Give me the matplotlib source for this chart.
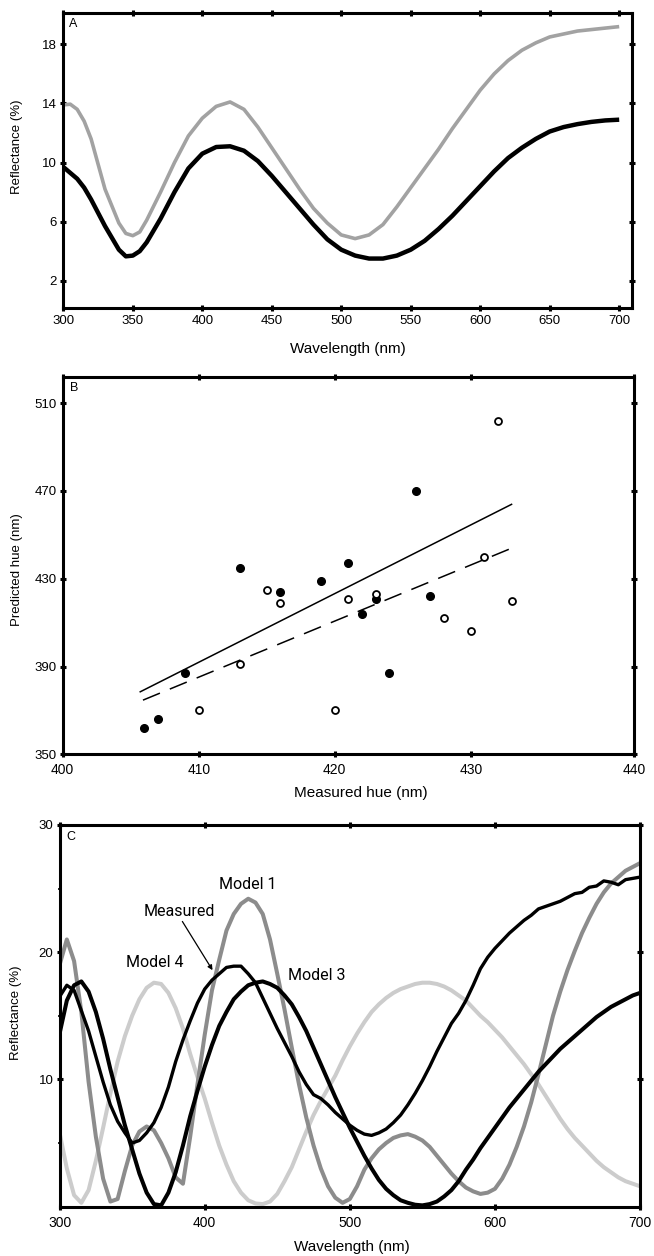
import matplotlib
matplotlib.use("Agg")
import matplotlib.pyplot as plt
from matplotlib.ticker import FixedLocator

plt.rcParams['font.family'] = ['Liberation Sans', 'DejaVu Sans']

# ---- Panel A: reflectance spectra ----
wl_a = [300, 305, 310, 315, 320, 330, 340, 345, 350, 355, 360, 370, 380, 390,
        400, 410, 420, 430, 440, 450, 460, 470, 480, 490, 500, 510, 520, 530,
        540, 550, 560, 570, 580, 590, 600, 610, 620, 630, 640, 650, 660, 670,
        680, 690, 700]
black_a = [9.7, 9.3, 8.9, 8.3, 7.5, 5.7, 4.1, 3.65, 3.7, 4.0, 4.6, 6.2, 8.0, 9.6,
           10.6, 11.05, 11.1, 10.8, 10.1, 9.1, 8.0, 6.9, 5.8, 4.8, 4.1, 3.7, 3.5, 3.5,
           3.7, 4.1, 4.7, 5.5, 6.4, 7.4, 8.4, 9.4, 10.3, 11.0, 11.6, 12.1, 12.4, 12.6,
           12.75, 12.85, 12.9]
gray_a = [13.9, 13.95, 13.6, 12.8, 11.6, 8.2, 5.9, 5.2, 5.05, 5.3, 6.1, 8.0, 10.0, 11.8,
          13.0, 13.8, 14.1, 13.6, 12.4, 11.0, 9.6, 8.2, 6.9, 5.9, 5.1, 4.85, 5.1, 5.8,
          7.0, 8.3, 9.6, 10.9, 12.3, 13.6, 14.9, 16.0, 16.9, 17.6, 18.1, 18.5, 18.7, 18.9,
          19.0, 19.1, 19.2]

# ---- Panel B: predicted vs measured hue ----
filled_x = [406, 407, 409, 413, 416, 419, 421, 422, 423, 424, 426, 427]
filled_y = [362, 366, 387, 435, 424, 429, 437, 414, 421, 387, 470, 422]
open_x = [410, 413, 415, 416, 420, 421, 423, 428, 430, 431, 432, 433]
open_y = [370, 391, 425, 419, 370, 421, 423, 412, 406, 440, 502, 420]
solid_x = [405.7, 433.0]
solid_y = [378.5, 463.9]
dash_x = [405.9, 433.5]
dash_y = [374.7, 445.2]

# ---- Panel C: measured spectrum and models ----
wl_c = [300, 305, 310, 315, 320, 325, 330, 335, 340, 345, 350, 355, 360, 365, 370,
        375, 380, 385, 390, 395, 400, 405, 410, 415, 420, 425, 430, 435, 440, 445,
        450, 455, 460, 465, 470, 475, 480, 485, 490, 495, 500, 505, 510, 515, 520,
        525, 530, 535, 540, 545, 550, 555, 560, 565, 570, 575, 580, 585, 590, 595,
        600, 605, 610, 615, 620, 625, 630, 635, 640, 645, 650, 655, 660, 665, 670,
        675, 680, 685, 690, 695, 700]
measured = [16.5, 17.4, 17.0, 15.4, 13.8, 11.8, 9.8, 8.0, 6.7, 5.8, 5.0, 5.2, 5.8, 6.6, 7.8,
            9.4, 11.4, 13.1, 14.6, 16.0, 17.1, 17.8, 18.3, 18.8, 18.9, 18.9, 18.3, 17.6, 16.4, 15.2,
            14.0, 12.9, 11.8, 10.6, 9.6, 8.8, 8.5, 8.0, 7.4, 6.9, 6.4, 6.0, 5.7, 5.6, 5.8,
            6.1, 6.6, 7.2, 8.0, 8.9, 9.9, 11.0, 12.2, 13.3, 14.4, 15.2, 16.2, 17.4, 18.7, 19.6,
            20.3, 20.9, 21.5, 22.0, 22.5, 22.9, 23.4, 23.6, 23.8, 24.0, 24.3, 24.6, 24.7, 25.1, 25.2,
            25.6, 25.5, 25.3, 25.7, 25.8, 25.9]
model1 = [19.0, 21.0, 19.3, 15.3, 9.8, 5.5, 2.2, 0.4, 0.6, 2.8, 4.8, 5.9, 6.3, 6.0, 5.0,
          3.8, 2.3, 1.8, 5.5, 9.6, 13.5, 17.0, 19.4, 21.7, 23.0, 23.8, 24.2, 23.9, 23.0, 21.0,
          18.3, 15.5, 12.5, 9.6, 7.0, 4.8, 3.0, 1.6, 0.7, 0.3, 0.6, 1.6, 2.9, 3.8, 4.5,
          5.0, 5.4, 5.6, 5.7, 5.5, 5.2, 4.7, 4.0, 3.3, 2.6, 2.0, 1.5, 1.2, 1.0, 1.1,
          1.4, 2.2, 3.3, 4.7, 6.3, 8.2, 10.4, 12.7, 15.0, 16.9, 18.6, 20.1, 21.5, 22.7, 23.8,
          24.7, 25.4, 25.9, 26.4, 26.7, 27.0]
model3 = [13.6, 16.2, 17.4, 17.7, 16.9, 15.3, 13.2, 10.8, 8.6, 6.4, 4.5, 2.6, 1.1, 0.2, 0.1,
          1.1, 2.7, 4.8, 7.1, 9.1, 11.0, 12.7, 14.2, 15.3, 16.3, 16.9, 17.4, 17.6, 17.7, 17.5,
          17.2, 16.6, 15.9, 14.9, 13.8, 12.5, 11.2, 9.9, 8.6, 7.4, 6.2, 5.1, 4.0, 3.0, 2.1,
          1.4, 0.9, 0.5, 0.3, 0.15, 0.1, 0.2, 0.4, 0.8, 1.3, 2.0, 2.9, 3.7, 4.6, 5.4,
          6.2, 7.0, 7.8, 8.5, 9.2, 9.9, 10.6, 11.2, 11.8, 12.4, 12.9, 13.4, 13.9, 14.4, 14.9,
          15.3, 15.7, 16.0, 16.3, 16.6, 16.8]
model4 = [5.8, 3.0, 0.9, 0.3, 1.3, 3.6, 6.2, 8.9, 11.4, 13.4, 15.0, 16.3, 17.2, 17.6, 17.5,
          16.8, 15.6, 14.0, 12.0, 10.2, 8.5, 6.6, 4.8, 3.3, 2.0, 1.1, 0.5, 0.25, 0.2, 0.4,
          1.0, 2.0, 3.1, 4.5, 5.9, 7.2, 8.3, 9.3, 10.3, 11.5, 12.6, 13.6, 14.5, 15.3, 15.9,
          16.4, 16.8, 17.1, 17.3, 17.5, 17.6, 17.6, 17.5, 17.3, 17.0, 16.6, 16.2, 15.6, 15.0, 14.5,
          13.9, 13.3, 12.6, 11.9, 11.2, 10.4, 9.6, 8.7, 7.8, 6.9, 6.1, 5.4, 4.8, 4.2, 3.6,
          3.1, 2.7, 2.3, 2.0, 1.8, 1.6]

labels_c = ["Model 1", "Measured", "Model 4", "Model 3"]
label_x = [429.8, 382.3, 365.7, 477.4]
label_y = [25.3, 23.2, 19.2, 18.2]


def style_axes(ax):
    for sp in ax.spines.values():
        sp.set_linewidth(2.2)
    ax.tick_params(which='both', direction='inout', top=True, right=True,
                   length=5, width=2.2, labelsize=9.5, pad=2)
    ax.tick_params(which='minor', length=3, width=1.2)


fig = plt.figure(figsize=(6.54, 12.56), dpi=100)

# Panel A
axA = fig.add_axes([0.0968, 0.7545, 0.8691, 0.2349])
axA.plot(wl_a, black_a, color='black', lw=3.2, solid_capstyle='butt')
axA.plot(wl_a, gray_a, color='#a2a2a2', lw=2.6, solid_capstyle='butt')
axA.set_xlim(300, 709)
axA.set_ylim(0.13, 20.1)
axA.set_xticks([300, 350, 400, 450, 500, 550, 600, 650, 700])
axA.set_yticks([2, 6, 10, 14, 18])
style_axes(axA)
axA.set_xlabel("Wavelength (nm)", fontsize=11)
axA.set_ylabel("Reflectance (%)", fontsize=9.5)
axA.xaxis.set_label_coords(0.5, -0.114)
axA.yaxis.set_label_coords(-0.0705, 0.548)
axA.text(0.01, 0.985, "A", transform=axA.transAxes, fontsize=9, va='top', ha='left')

# Panel B
axB = fig.add_axes([0.0959, 0.3994, 0.8735, 0.3006])
axB.plot(solid_x, solid_y, color='black', lw=1.1)
axB.plot(dash_x, dash_y, color='black', lw=1.1, dashes=(12, 7))
axB.plot(filled_x, filled_y, 'o', color='black', ms=5.5, zorder=3)
axB.plot(open_x, open_y, 'o', mfc='white', mec='black', mew=1.3, ms=5, zorder=3)
axB.set_xlim(400, 442)
axB.set_ylim(350, 522)
axB.set_xticks([400, 410, 420, 430, 442])
axB.set_xticklabels(['400', '410', '420', '430', '440'])
axB.set_yticks([350, 390, 430, 470, 510])
style_axes(axB)
axB.tick_params(axis='x', labelsize=10, pad=4)
axB.set_xlabel("Measured hue (nm)", fontsize=11)
axB.set_ylabel("Predicted hue (nm)", fontsize=9.5)
axB.xaxis.set_label_coords(0.522, -0.084)
axB.yaxis.set_label_coords(-0.069, 0.488)
axB.text(0.012, 0.985, "B", transform=axB.transAxes, fontsize=9, va='top', ha='left')

# Panel C
axC = fig.add_axes([0.0911, 0.0393, 0.8876, 0.3039])
axC.plot(wl_c, model4, color='#cccccc', lw=2.9)
axC.plot(wl_c, model1, color='#8c8c8c', lw=2.9)
axC.plot(wl_c, model3, color='black', lw=2.9)
axC.plot(wl_c, measured, color='black', lw=2.4)
for name, lx, ly in zip(labels_c, label_x, label_y):
    axC.text(lx, ly, name, fontsize=11.5, ha='center', va='center',
             family=['Roboto', 'DejaVu Sans'])
axC.annotate('', xy=(406.4, 18.4), xytext=(383.6, 22.6),
             arrowprops=dict(arrowstyle='-|>', lw=0.9, color='black', mutation_scale=7))
axC.set_xlim(300, 700)
axC.set_ylim(0, 30)
axC.set_xticks([300, 400, 500, 600, 700])
axC.set_yticks([10, 20, 30])
axC.yaxis.set_minor_locator(FixedLocator([5, 15, 25]))
style_axes(axC)
axC.tick_params(axis='y', which='minor', right=False)
axC.tick_params(axis='x', labelsize=10, pad=4)
axC.set_xlabel("Wavelength (nm)", fontsize=11)
axC.set_ylabel("Reflectance (%)", fontsize=9.5)
axC.xaxis.set_label_coords(0.504, -0.087)
axC.yaxis.set_label_coords(-0.064, 0.507)
axC.text(0.012, 0.985, "C", transform=axC.transAxes, fontsize=9, va='top', ha='left')

fig.savefig("out.png", dpi=100)
